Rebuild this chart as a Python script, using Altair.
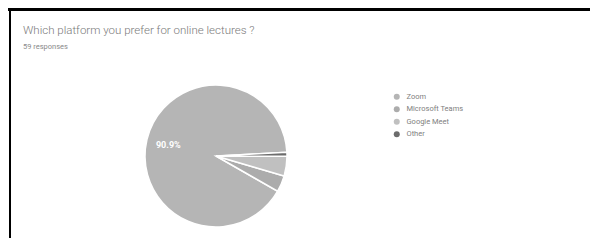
import math
import altair as alt
import pandas as pd

platforms = ["Zoom", "Microsoft Teams", "Google Meet", "Other"]
shares = [90.9, 3.7, 4.5, 0.9]
clockwise_order = [3, 2, 1, 0]
slice_labels = ["90.9%", "", "", ""]
colors = ["#b5b5b5", "#acacac", "#c0c0c0", "#6c6c6c"]
title_text = "Which platform you prefer for online lectures ?"
subtitle_text = "59 responses"

df = pd.DataFrame({"platform": platforms, "share": shares,
                   "ord": clockwise_order, "label": slice_labels})
txt = pd.DataFrame({"t": [title_text], "s": [subtitle_text]})
one = pd.DataFrame({"a": [0]})

W, H = 582, 230
CX, CY, R = 208, 148, 71
start = math.radians(87)

theta = alt.Theta("share:Q", stack=True,
                  scale=alt.Scale(range=[start, start + 2 * math.pi]))
color = alt.Color(
    "platform:N",
    scale=alt.Scale(domain=platforms, range=colors),
    legend=alt.Legend(
        orient="none", legendX=385, legendY=85, title=None,
        labelFontSize=7.5, labelColor="#808080", labelFont="Roboto",
        symbolType="circle", symbolSize=36, symbolStrokeWidth=0,
        rowPadding=3.5, padding=0, labelOffset=6,
    ),
)

pie = alt.Chart(df).mark_arc(outerRadius=R, stroke="white", strokeWidth=1.5).encode(
    theta=theta, color=color, order=alt.Order("ord:Q"),
    x=alt.value(CX), y=alt.value(CY),
)

lbl = alt.Chart(df).mark_text(radius=49, fontSize=9, color="white",
                             font="Roboto", fontWeight="bold").encode(
    theta=theta, detail="platform:N", order=alt.Order("ord:Q"),
    text="label:N", x=alt.value(CX), y=alt.value(CY),
)

title = alt.Chart(txt).mark_text(align="left", baseline="alphabetic", fontSize=11.5,
                                 font="Roboto", fontWeight=300, color="#7a7a7a").encode(
    text="t:N", x=alt.value(15), y=alt.value(26))
subtitle = alt.Chart(txt).mark_text(align="left", baseline="alphabetic", fontSize=7.5,
                                    font="Roboto", color="#8a8a8a").encode(
    text="s:N", x=alt.value(15), y=alt.value(41))

top_rule = alt.Chart(one).mark_rule(color="black", strokeWidth=3).encode(
    x=alt.value(0), x2=alt.value(W), y=alt.value(1.5))
left_rule = alt.Chart(one).mark_rule(color="black", strokeWidth=2).encode(
    x=alt.value(2), y=alt.value(0), y2=alt.value(H))

chart = alt.layer(pie, lbl, title, subtitle, top_rule, left_rule).properties(
    width=W, height=H, padding=0, autosize="none", background="white"
).configure_view(stroke=None)

chart.save("out.html", embed_options={"renderer": "svg", "actions": False})
